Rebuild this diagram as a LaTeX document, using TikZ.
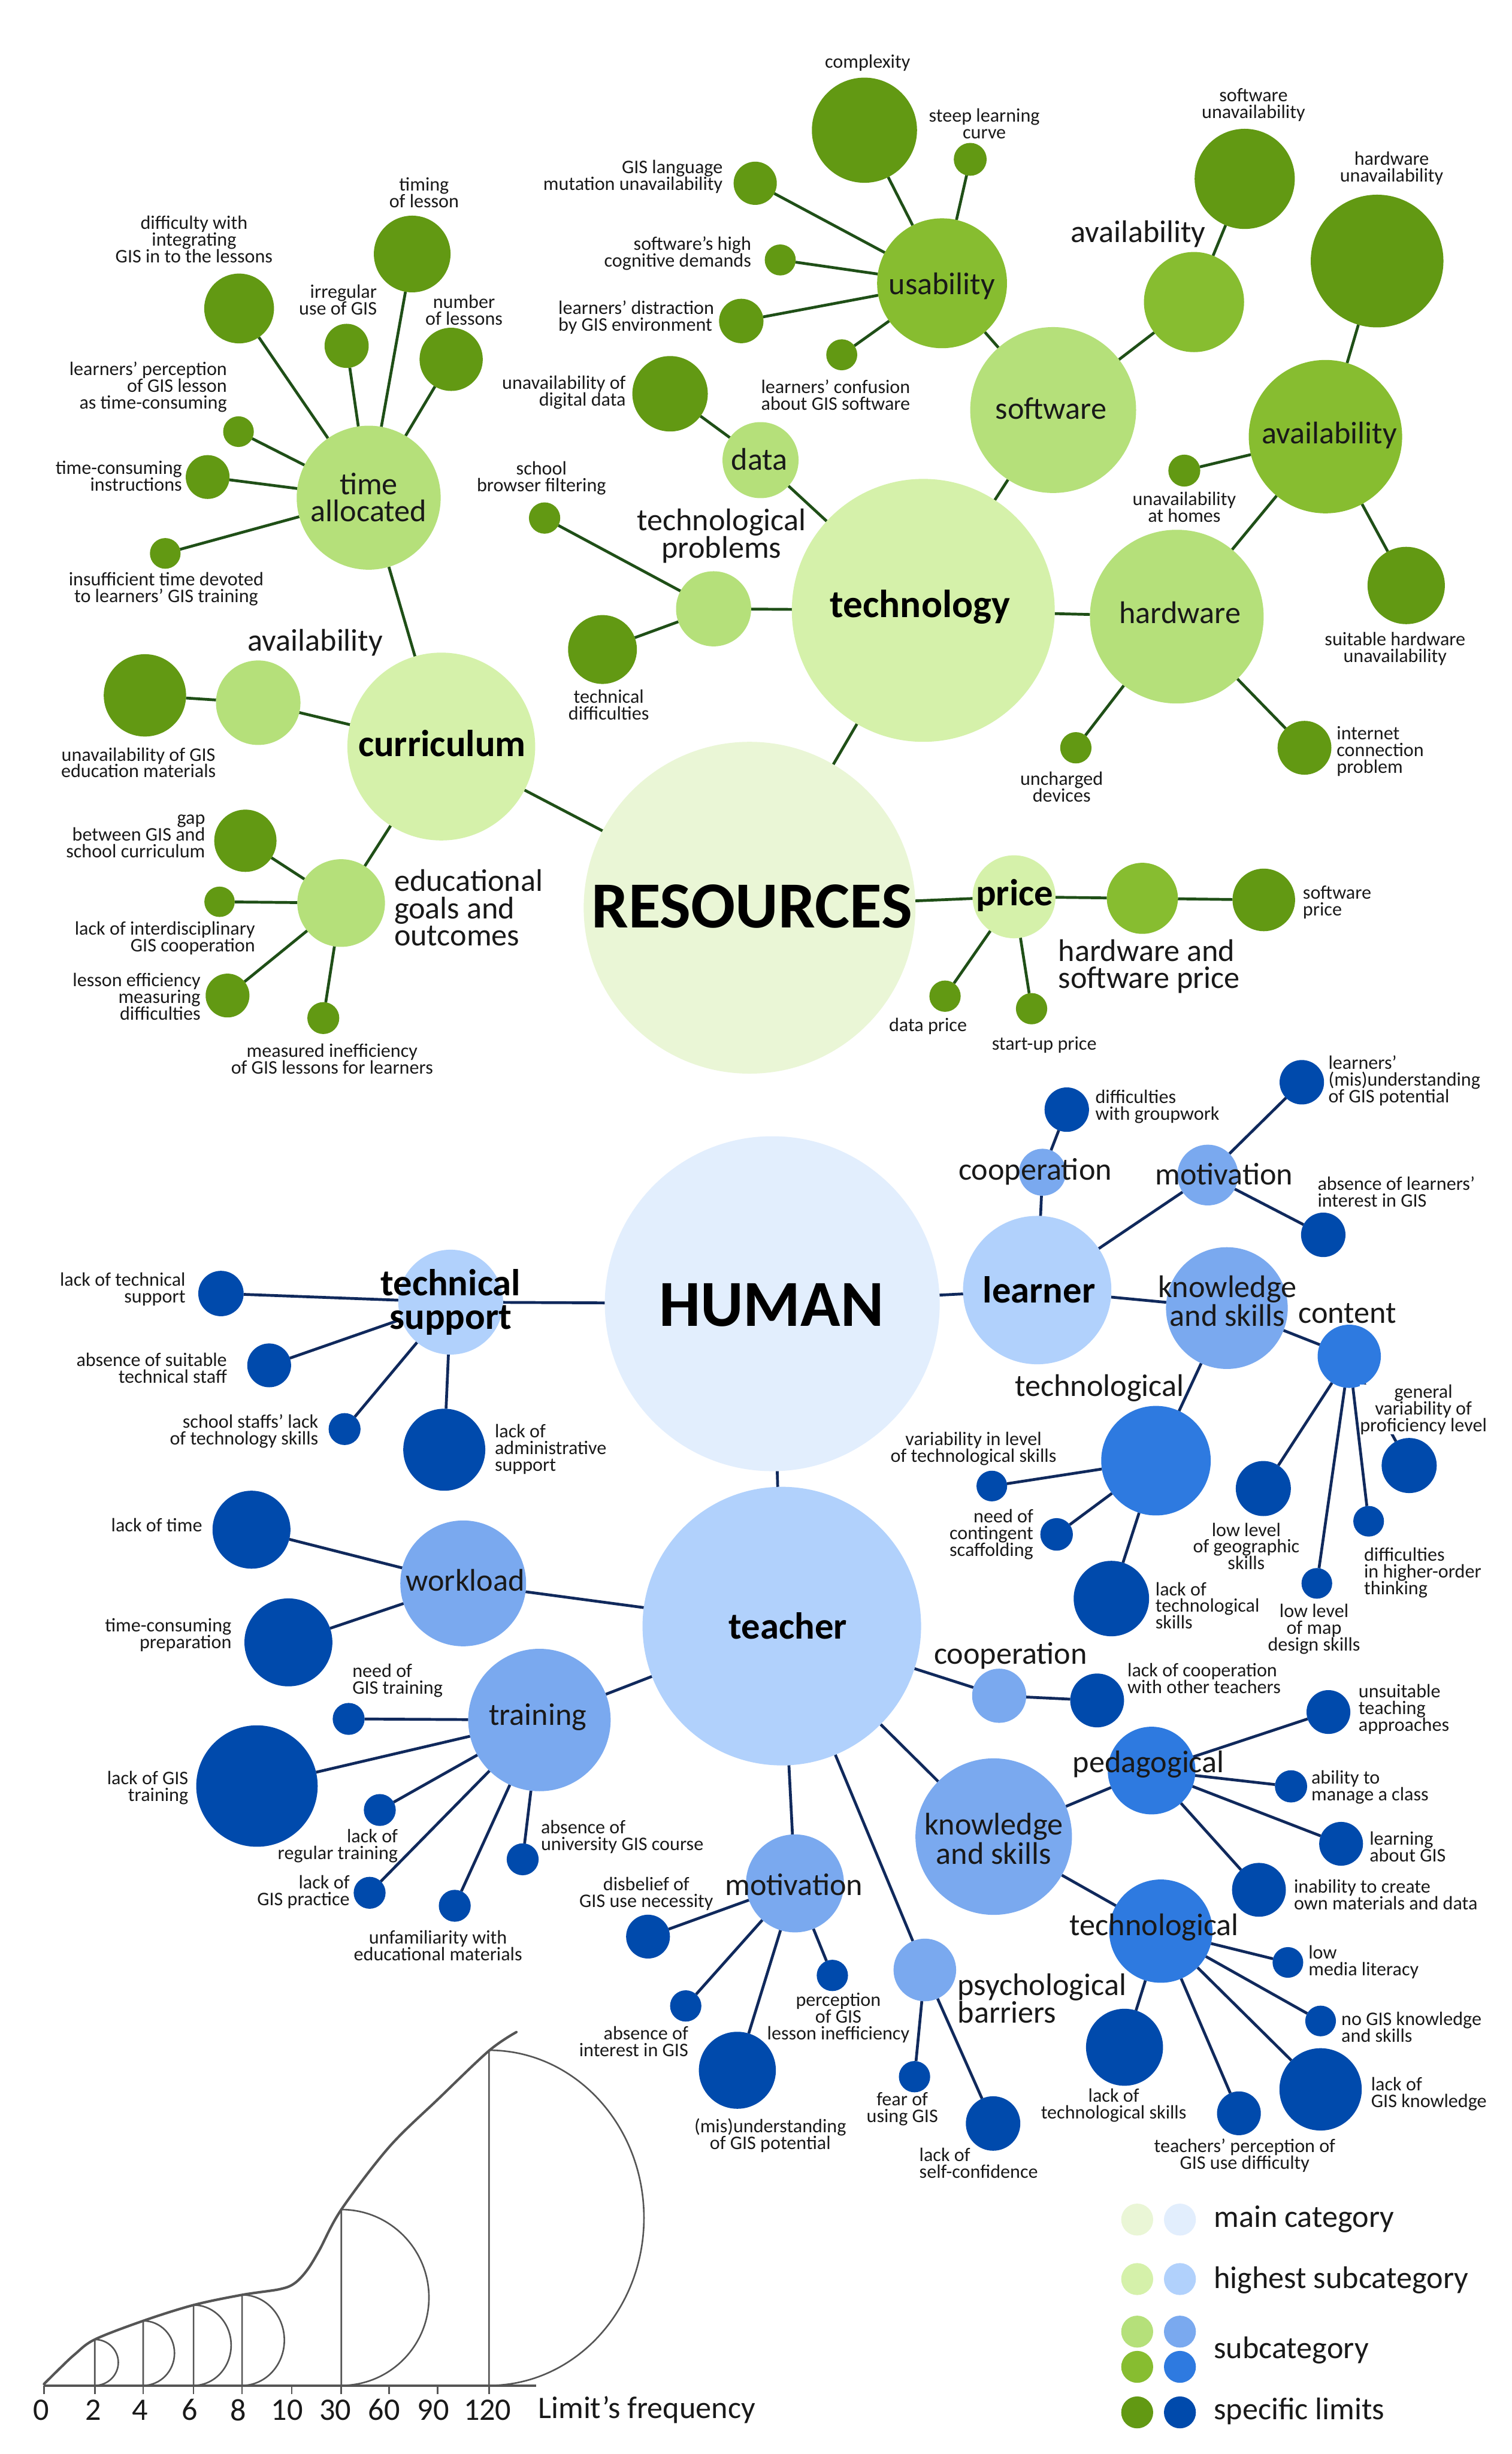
\documentclass[tikz,border=0pt]{standalone}
\usepackage{fontspec}
\setmainfont{Carlito}
\usetikzlibrary{backgrounds}
\definecolor{gMain}{HTML}{EAF6D6}
\definecolor{gHigh}{HTML}{D5F1AA}
\definecolor{gSubA}{HTML}{B5E07A}
\definecolor{gSubB}{HTML}{87BD30}
\definecolor{gSpec}{HTML}{629913}
\definecolor{gLine}{HTML}{1F4F17}
\definecolor{bMain}{HTML}{E2EEFD}
\definecolor{bHigh}{HTML}{B1D1FC}
\definecolor{bSubA}{HTML}{7AA9EF}
\definecolor{bSubB}{HTML}{2E7AE0}
\definecolor{bSpec}{HTML}{004AAC}
\definecolor{bLine}{HTML}{10295C}
\definecolor{chartC}{HTML}{555555}
\newcommand\cn[5]{\node[#2,minimum size={2*#5pt}] (#1) at (#3,#4) {};}
\tikzset{
  circ/.style={circle,inner sep=0pt,outer sep=0pt,draw=none},
  cgm/.style={circ,fill=gMain}, cgh/.style={circ,fill=gHigh},
  cga/.style={circ,fill=gSubA}, cgb/.style={circ,fill=gSubB},
  cgs/.style={circ,fill=gSpec},
  cbm/.style={circ,fill=bMain}, cbh/.style={circ,fill=bHigh},
  cba/.style={circ,fill=bSubA}, cbb/.style={circ,fill=bSubB},
  cbs/.style={circ,fill=bSpec},
  glink/.style={draw=gLine,line width=1.8pt},
  blink/.style={draw=bLine,line width=1.8pt},
  sm/.style={font=\fontsize{12.3}{10.7}\selectfont,inner sep=0pt,align=center,text=black!90},
  smr/.style={sm,align=right,anchor=east},
  sml/.style={sm,align=left,anchor=west},
  md/.style={font=\fontsize{20}{17.5}\selectfont,inner sep=0pt,align=center,text=black!90},
  mdw/.style={md,font=\fontsize{20}{18.6}\selectfont},
  mdl/.style={md,align=left,anchor=west},
  bd/.style={font=\bfseries\fontsize{24}{21.4}\selectfont,inner sep=0pt,align=center},
  chartline/.style={draw=chartC,line width=1pt},
}
\begin{document}
\begin{tikzpicture}[x=1pt,y=-1pt]
\useasboundingbox (0,0) rectangle (966,1568);
% ---------------- RESOURCES circles ----------------
\cn{R}{cgm}{479}{580}{106}
\cn{tech}{cgh}{590}{390}{84}
\cn{curr}{cgh}{282}{477}{60}
\cn{price}{cgh}{648}{573}{26.5}
\cn{soft}{cga}{673}{262}{53}
\cn{hard}{cga}{752}{394}{55.5}
\cn{usab}{cgb}{602}{181}{41.5}
\cn{avsw}{cgb}{763}{193}{32}
\cn{avhw}{cgb}{847}{279}{49}
\cn{data}{cga}{486}{294}{24.3}
\cn{tprob}{cga}{456}{389}{24}
\cn{time}{cga}{235.6}{318}{46}
\cn{avcur}{cga}{165}{449}{27}
\cn{edu}{cga}{218}{577}{28}
\cn{hsprice}{cgb}{730}{574}{22.7}
% specific green
\cn{complexity}{cgs}{552.4}{83.2}{33.6}
\cn{steep}{cgs}{620}{101.8}{10.5}
\cn{gislang}{cgs}{482.6}{117.1}{13.8}
\cn{cogn}{cgs}{498.6}{166.1}{9.9}
\cn{distr}{cgs}{473.7}{205.1}{14.2}
\cn{conf}{cgs}{537.9}{226.7}{9.9}
\cn{swuna}{cgs}{795.4}{114.3}{32}
\cn{hwuna}{cgs}{880}{166.8}{42.4}
\cn{homes}{cgs}{756.8}{300.7}{10.2}
\cn{suitable}{cgs}{898.6}{374.1}{24.7}
\cn{internet}{cgs}{833.6}{477.8}{17.2}
\cn{uncharged}{cgs}{687.5}{477.8}{10}
\cn{digdata}{cgs}{428.2}{251.6}{24.1}
\cn{browser}{cgs}{348}{331}{10}
\cn{techdiff}{cgs}{385}{415}{22}
\cn{swprice}{cgs}{807.6}{575}{20}
\cn{dataprice}{cgs}{603.9}{636.5}{10}
\cn{startup}{cgs}{659.2}{644.5}{10}
\cn{timing}{cgs}{263.4}{162.3}{24.5}
\cn{diffint}{cgs}{152.8}{197.1}{22.3}
\cn{irreg}{cgs}{221.5}{221}{14.1}
\cn{numles}{cgs}{288.3}{229.6}{20.2}
\cn{percep}{cgs}{152.4}{275.8}{9.8}
\cn{tcinstr}{cgs}{132.7}{304.8}{14}
\cn{insuff}{cgs}{105.6}{353.6}{9.8}
\cn{unavmat}{cgs}{92.6}{444.3}{26.3}
\cn{gap}{cgs}{156.8}{537.2}{19.9}
\cn{interd}{cgs}{140.3}{576.2}{9.7}
\cn{lesseff}{cgs}{145.4}{636.1}{14}
\cn{measineff}{cgs}{206.6}{650.5}{10.2}
% ---------------- HUMAN circles ----------------
\cn{H}{cbm}{493.5}{833}{107}
\cn{teacher}{cbh}{499.6}{1039}{89}
\cn{learner}{cbh}{662.8}{824.3}{47.4}
\cn{tsup}{cbh}{288}{832}{33.5}
\cn{coopL}{cba}{666.2}{749}{15}
\cn{motL}{cba}{771.8}{750.8}{19.4}
\cn{ksL}{cba}{784}{835.8}{38.9}
\cn{content}{cbb}{862.2}{866.6}{20.2}
\cn{tecL}{cbb}{738.7}{933.3}{35}
\cn{workload}{cba}{296}{1011.7}{40.2}
\cn{training}{cba}{344.7}{1099}{45.5}
\cn{coopT}{cba}{638.5}{1083.5}{17.3}
\cn{ksT}{cba}{635}{1173.5}{50}
\cn{ped}{cbb}{735.9}{1131.3}{28}
\cn{tecT}{cbb}{741.8}{1233.9}{33}
\cn{motT}{cba}{508}{1203.4}{31.3}
\cn{psych}{cba}{591}{1258.7}{20}
% specific blue
\cn{groupwork}{cbs}{681.7}{709}{14.2}
\cn{misunL}{cbs}{831.9}{691.5}{14.2}
\cn{absintL}{cbs}{845.6}{789}{14.2}
\cn{genvar}{cbs}{900.5}{936.4}{17.6}
\cn{higher}{cbs}{874.6}{972}{9.8}
\cn{mapdes}{cbs}{841.5}{1011.7}{9.8}
\cn{geog}{cbs}{807.3}{951.1}{17.6}
\cn{varlev}{cbs}{633.8}{949.5}{9.8}
\cn{scaff}{cbs}{675.2}{980.4}{10.4}
\cn{ltsL}{cbs}{710.2}{1021.4}{24.1}
\cn{ltsup}{cbs}{141.2}{826.5}{14.5}
\cn{abssta}{cbs}{172}{872.4}{14}
\cn{staffs}{cbs}{220.2}{913.1}{10.2}
\cn{admin}{cbs}{283.9}{926.3}{26.2}
\cn{ltime}{cbs}{160.7}{977.4}{24.9}
\cn{tcprep}{cbs}{184.3}{1049.4}{28.1}
\cn{needtr}{cbs}{222.8}{1098.3}{10.2}
\cn{lgistr}{cbs}{164.2}{1141.2}{38.8}
\cn{regtr}{cbs}{242.7}{1156.5}{10.2}
\cn{gispr}{cbs}{236.2}{1209.4}{10.2}
\cn{univ}{cbs}{334}{1188}{10.2}
\cn{unfam}{cbs}{290.6}{1217.7}{10.2}
\cn{lcoop}{cbs}{701.1}{1086.5}{17.2}
\cn{unsuit}{cbs}{848.9}{1093.9}{14}
\cn{manage}{cbs}{825}{1141.4}{10.3}
\cn{learnG}{cbs}{857}{1178.1}{14}
\cn{inabil}{cbs}{804.5}{1207.5}{17.2}
\cn{media}{cbs}{823}{1253.9}{9.8}
\cn{nogis}{cbs}{843.9}{1291.3}{9.8}
\cn{lgisk}{cbs}{843.9}{1335}{26.3}
\cn{tperc}{cbs}{791.7}{1350.3}{14}
\cn{ltsT}{cbs}{718.6}{1308.1}{24.6}
\cn{disbel}{cbs}{414.1}{1237.4}{14}
\cn{absintT}{cbs}{438.2}{1281.7}{10}
\cn{misunT}{cbs}{471.2}{1322.8}{24.6}
\cn{percT}{cbs}{531.9}{1262.2}{10}
\cn{fear}{cbs}{584.4}{1326.9}{10}
\cn{selfc}{cbs}{634.6}{1356.8}{17.4}
% ---------------- connectors ----------------
\begin{pgfonlayer}{background}
\fill[white] (0,0) rectangle (966,1568);
\foreach \a/\b in {R/tech,R/curr,R/price,tech/data,tech/tprob,tech/soft,tech/hard,
  data/digdata,tprob/browser,tprob/techdiff,soft/usab,soft/avsw,
  usab/complexity,usab/steep,usab/gislang,usab/cogn,usab/distr,usab/conf,
  avsw/swuna,hard/avhw,hard/uncharged,hard/internet,avhw/hwuna,avhw/homes,avhw/suitable,
  curr/time,curr/avcur,curr/edu,time/timing,time/diffint,time/irreg,time/numles,
  time/percep,time/tcinstr,time/insuff,avcur/unavmat,edu/gap,edu/interd,edu/lesseff,
  edu/measineff,price/hsprice,price/dataprice,price/startup,hsprice/swprice}
  \draw[glink] (\a) -- (\b);
\foreach \a/\b in {H/tsup,H/learner,H/teacher,tsup/ltsup,tsup/abssta,tsup/staffs,tsup/admin,
  learner/coopL,learner/motL,learner/ksL,coopL/groupwork,motL/misunL,motL/absintL,
  ksL/content,ksL/tecL,content/genvar,content/higher,content/mapdes,content/geog,
  tecL/varlev,tecL/scaff,tecL/ltsL,teacher/workload,teacher/training,teacher/coopT,
  teacher/ksT,teacher/motT,teacher/psych,workload/ltime,workload/tcprep,
  training/needtr,training/lgistr,training/regtr,training/gispr,training/univ,training/unfam,
  coopT/lcoop,ksT/ped,ksT/tecT,ped/unsuit,ped/manage,ped/learnG,ped/inabil,
  tecT/media,tecT/nogis,tecT/lgisk,tecT/tperc,tecT/ltsT,
  motT/disbel,motT/absintT,motT/misunT,motT/percT,psych/fear,psych/selfc}
  \draw[blink] (\a) -- (\b);
\end{pgfonlayer}
% ---------------- category labels (green) ----------------
\node[bd,font=\bfseries\fontsize{42}{42}\selectfont] (t-R) at (480.5,579) {RESOURCES};
\node[bd,font=\bfseries\fontsize{25}{25}\selectfont] (t-tech) at (588,388) {technology};
\node[bd] (t-curr) at (282.5,475) {curriculum};
\node[bd] (t-price) at (648.4,572) {price};
\node[md] (t-soft) at (671.6,261) {software};
\node[md] (t-hard) at (754,391.5) {hardware};
\node[md] (t-usab) at (601.9,183) {usability};
\node[md] (t-avsw) at (727.3,149.5) {availability};
\node[md] (t-avhw) at (849.5,278) {availability};
\node[md] (t-data) at (485.3,293.5) {data};
\node[md] (t-tprob) at (461,342.5) {technological\\problems};
\node[md] (t-time) at (235.6,317.8) {time\\allocated};
\node[md] (t-avcur) at (201.5,410.7) {availability};
\node[mdl] (t-edu) at (251.7,580) {educational\\goals and\\outcomes};
\node[mdl] (t-hsprice) at (676.2,617.5) {hardware and\\software price};
% ---------------- specific labels (green) ----------------
\node[sm] (t-complexity) at (554.4,40.2) {complexity};
\node[sm] (t-steep) at (629,79) {steep learning\\curve};
\node[smr] (t-gislang) at (462,112.9) {GIS language\\mutation unavailability};
\node[smr] (t-cogn) at (480.2,161.8) {software's high\\cognitive demands};
\node[smr,align=left] (t-distr) at (456.5,202.9) {learners' distraction\\by GIS environment};
\node[sm] (t-conf) at (534,252.3) {learners' confusion\\about GIS software};
\node[sm] (t-swuna) at (801,67.2) {software\\unavailability};
\node[sm] (t-hwuna) at (889.3,107.5) {hardware\\unavailability};
\node[sm] (t-homes) at (756.8,324.2) {unavailability\\at homes};
\node[sm] (t-suitable) at (891.5,414.5) {suitable hardware\\unavailability};
\node[sml] (t-internet) at (854,480) {internet\\connection\\problem};
\node[sm] (t-uncharged) at (678.4,502.9) {uncharged\\devices};
\node[smr] (t-digdata) at (400.1,250.9) {unavailability of\\digital data};
\node[sm] (t-browser) at (346,305.5) {school\\browser filtering};
\node[sm] (t-techdiff) at (389,450.5) {technical\\difficulties};
\node[sml] (t-swprice) at (832.4,576.5) {software\\price};
\node[sm] (t-dataprice) at (593,655.7) {data price};
\node[sm] (t-startup) at (667.3,667.6) {start-up price};
\node[sm] (t-timing) at (271,123) {timing\\of lesson};
\node[sm] (t-diffint) at (124,153) {difficulty with\\integrating\\GIS in to the lessons};
\node[smr] (t-irreg) at (241,191.7) {irregular\\use of GIS};
\node[sm] (t-numles) at (296.5,198.2) {number\\of lessons};
\node[smr] (t-percep) at (145.2,247.3) {learners' perception\\of GIS lesson\\as time-consuming};
\node[smr] (t-tcinstr) at (116.5,304.3) {time-consuming\\instructions};
\node[sm] (t-insuff) at (106.2,376.2) {insufficient time devoted\\to learners' GIS training};
\node[sm] (t-unavmat) at (88.5,487.3) {unavailability of GIS\\education materials};
\node[smr] (t-gap) at (131.3,534.3) {gap\\between GIS and\\school curriculum};
\node[smr] (t-interd) at (163.2,599.5) {lack of interdisciplinary\\GIS cooperation};
\node[smr] (t-lesseff) at (128.3,636.7) {lesson efficiency\\measuring\\difficulties};
\node[sm] (t-measineff) at (212.2,676.7) {measured inefficiency\\of GIS lessons for learners};
% ---------------- category labels (blue) ----------------
\node[bd,font=\bfseries\fontsize{42}{42}\selectfont] (t-H) at (493,834) {HUMAN};
\node[bd] (t-teacher) at (503.5,1039) {teacher};
\node[bd] (t-learner) at (664,824) {learner};
\node[bd] (t-tsup) at (288,832) {technical\\support};
\node[md] (t-coopL) at (661.5,748.5) {cooperation};
\node[md] (t-motL) at (782.2,750.3) {motivation};
\node[mdw] (t-ksL) at (784.3,831.3) {knowledge\\and skills};
\node[md] (t-content) at (861,839.2) {content};
\node[md] (t-tecL) at (702.6,887) {technological};
\node[md] (t-workload) at (297.3,1009.5) {workload};
\node[md] (t-training) at (343.6,1097) {training};
\node[md] (t-coopT) at (645.8,1057.8) {cooperation};
\node[mdw] (t-ksT) at (635,1174.9) {knowledge\\and skills};
\node[md] (t-ped) at (733.9,1127.2) {pedagogical};
\node[md] (t-tecT) at (737.6,1231.6) {technological};
\node[md] (t-motT) at (507.4,1204) {motivation};
\node[mdl] (t-psych) at (611.8,1277) {psychological\\barriers};
% ---------------- specific labels (blue) ----------------
\node[sml] (t-groupwork) at (699.8,707.2) {difficulties\\with groupwork};
\node[sml] (t-misunL) at (848.7,690.5) {learners'\\(mis)understanding\\of GIS potential};
\node[sml] (t-absintL) at (841.8,761.4) {absence of learners'\\interest in GIS};
\node[sm,fill=white] (t-genvar) at (909.6,900.6) {general\\variability of\\proficiency level};
\node[sm] (t-varlev) at (622.1,925.5) {variability in level\\of technological skills};
\node[smr] (t-scaff) at (660.5,980.5) {need of\\contingent\\scaffolding};
\node[sml] (t-ltsL) at (738.2,1025.9) {lack of\\technological\\skills};
\node[sm] (t-geog) at (796.4,988) {low level\\of geographic\\skills};
\node[sml] (t-higher) at (871.5,1005) {difficulties\\in higher-order\\thinking};
\node[sm] (t-mapdes) at (839.7,1040.8) {low level\\of map\\design skills};
\node[smr] (t-ltsup) at (118.7,823.6) {lack of technical\\support};
\node[smr] (t-abssta) at (145.2,874.2) {absence of suitable\\technical staff};
\node[smr] (t-staffs) at (203.6,914.6) {school staffs' lack\\of technology skills};
\node[sml] (t-admin) at (316,926) {lack of\\administrative\\support};
\node[smr] (t-ltime) at (129.4,974.4) {lack of time};
\node[smr] (t-tcprep) at (148.1,1044.8) {time-consuming\\preparation};
\node[sml] (t-needtr) at (225,1073.7) {need of\\GIS training};
\node[smr] (t-lgistr) at (120.5,1142.4) {lack of GIS\\training};
\node[smr] (t-regtr) at (254.4,1179.6) {lack of\\regular training};
\node[smr] (t-gispr) at (223.6,1208.7) {lack of\\GIS practice};
\node[sml] (t-univ) at (345.5,1173.5) {absence of\\university GIS course};
\node[sm] (t-unfam) at (279.9,1243.3) {unfamiliarity with\\educational materials};
\node[sml] (t-lcoop) at (720.3,1072.4) {lack of cooperation\\with other teachers};
\node[sml] (t-unsuit) at (868,1092) {unsuitable\\teaching\\approaches};
\node[sml] (t-manage) at (837.8,1142.1) {ability to\\manage a class};
\node[sml] (t-learnG) at (875,1179.9) {learning\\about GIS};
\node[sml] (t-inabil) at (826.7,1210.6) {inability to create\\own materials and data};
\node[sml] (t-media) at (836,1253.8) {low\\media literacy};
\node[sml] (t-nogis) at (857,1295.1) {no GIS knowledge\\and skills};
\node[sml] (t-lgisk) at (876,1338.1) {lack of\\GIS knowledge};
\node[sm] (t-tperc) at (795.4,1377.1) {teachers' perception of\\GIS use difficulty};
\node[sm] (t-ltsT) at (711.7,1345.3) {lack of\\technological skills};
\node[sm] (t-disbel) at (413,1209.9) {disbelief of\\GIS use necessity};
\node[smr] (t-absintT) at (440,1304.3) {absence of\\interest in GIS};
\node[sm] (t-misunT) at (492.2,1364.3) {(mis)understanding\\of GIS potential};
\node[sm] (t-percT) at (535.7,1289.2) {perception\\of GIS\\lesson inefficiency};
\node[sm] (t-fear) at (576.6,1347.5) {fear of\\using GIS};
\node[sml] (t-selfc) at (587.3,1382) {lack of\\self-confidence};
% ---------------- legend ----------------
\cn{lgA1}{cgm}{726.7}{1418.2}{10.2}
\cn{lgA2}{cbm}{754}{1418.2}{10.2}
\cn{lgB1}{cgh}{726.7}{1456.2}{10.2}
\cn{lgB2}{cbh}{754}{1456.2}{10.2}
\cn{lgC1}{cga}{726.7}{1489.8}{10.2}
\cn{lgC2}{cba}{754}{1489.8}{10.2}
\cn{lgD1}{cgb}{726.7}{1512.3}{10.2}
\cn{lgD2}{cbb}{754}{1512.3}{10.2}
\cn{lgE1}{cgs}{726.7}{1541.4}{10.2}
\cn{lgE2}{cbs}{754}{1541.4}{10.2}
\node[mdl] (lg-main) at (775.5,1417.9) {main category};
\node[mdl] (lg-high) at (775.5,1457) {highest subcategory};
\node[mdl] (lg-sub) at (775.5,1501.7) {subcategory};
\node[mdl] (lg-spec) at (775.5,1540.8) {specific limits};
% ---------------- frequency chart ----------------
\draw[draw=chartC,line width=1.6pt] (28,1524.2) -- (342.8,1524.2);
\foreach \x in {28.1,60.6,91.5,123.7,154.7,186.5,218.1,248.7,279.7,312.5}
  \draw[chartline] (\x,1524.2) -- (\x,1529.7);
\draw[draw=chartC,line width=1.6pt,line cap=round] plot[smooth,tension=0.55] coordinates {
  (28.1,1523.3) (38.3,1513.2) (47.8,1504.3) (60.6,1494.8) (91.5,1482.9) (123.7,1472.8)
  (154.7,1466.3) (178.6,1462.7) (188.1,1459) (196.1,1450.7) (204,1437.9) (218.1,1411.8)
  (248.7,1371.8) (280.6,1340.6) (312.5,1310.3) (330,1298.4)};
\draw[chartline] (60.6,1524.2) -- (60.6,1494.8) arc[start angle=-90,end angle=90,x radius=15,y radius=14.7];
\draw[chartline] (91.5,1524.2) -- (91.5,1482.9) arc[start angle=-90,end angle=90,x radius=20,y radius=20.65];
\draw[chartline] (123.7,1524.2) -- (123.7,1472.8) arc[start angle=-90,end angle=90,x radius=24,y radius=25.7];
\draw[chartline] (154.7,1524.2) -- (154.7,1466.3) arc[start angle=-90,end angle=90,x radius=27,y radius=28.95];
\draw[chartline] (218.1,1524.2) -- (218.1,1411.8) arc[start angle=-90,end angle=90,x radius=56,y radius=56.2];
\draw[chartline] (312.5,1524.2) -- (312.5,1310) arc[start angle=-90,end angle=90,x radius=99,y radius=107.1];
\node[md] (f0) at (26.5,1539.8) {0};
\node[md] (f2) at (59.6,1539.8) {2};
\node[md] (f4) at (89.3,1539.8) {4};
\node[md] (f6) at (121.2,1539.8) {6};
\node[md] (f8) at (152.4,1539.8) {8};
\node[md] (f10) at (183.4,1539.8) {10};
\node[md] (f30) at (214.3,1539.8) {30};
\node[md] (f60) at (245.5,1539.8) {60};
\node[md] (f90) at (276.8,1539.8) {90};
\node[md] (f120) at (311.5,1539.8) {120};
\node[mdl] (flab) at (343.7,1539.8) {Limit's frequency};
\end{tikzpicture}
\end{document}
